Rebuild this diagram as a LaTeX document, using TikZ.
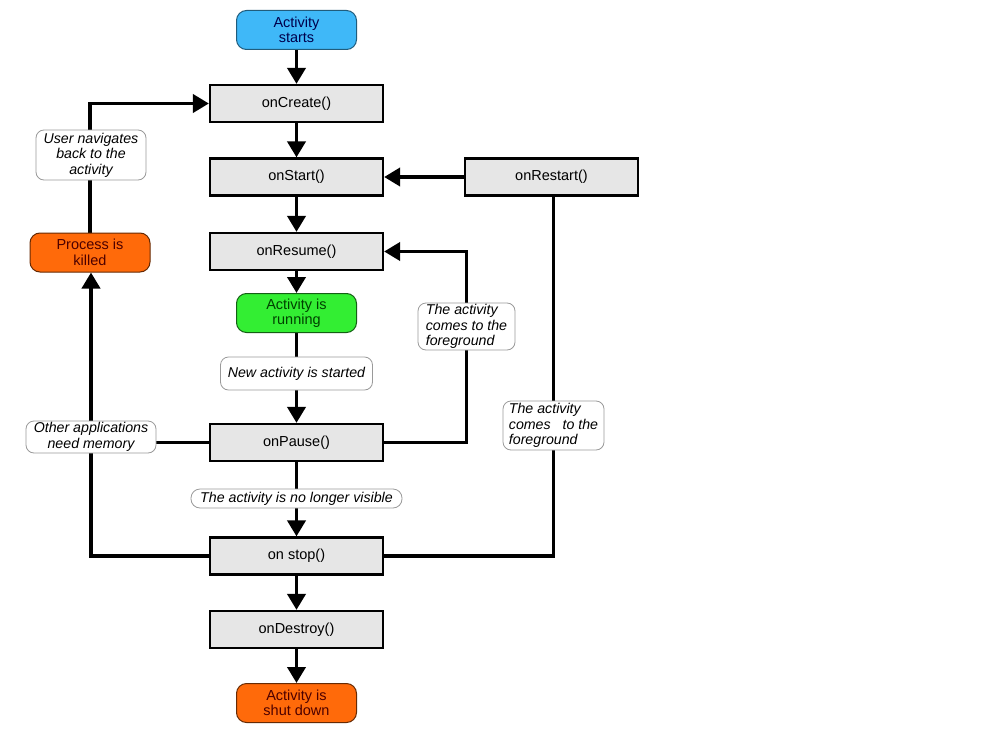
\documentclass[tikz,border=0pt]{standalone}
\usepackage{fontspec}
\setmainfont{Liberation Sans}
\usetikzlibrary{arrows.meta,backgrounds}
\definecolor{boxgray}{HTML}{E6E6E6}
\definecolor{startblue}{HTML}{3FB8F8}
\definecolor{rungreen}{HTML}{33EE33}
\definecolor{killorange}{HTML}{FF6A0A}
\definecolor{notegray}{HTML}{9A9A9A}
\begin{document}
\begin{tikzpicture}[x=1pt,y=-1pt,
  font=\fontsize{14.5}{15.5}\selectfont,
  method/.style={draw=black,line width=2.2pt,fill=boxgray,minimum width=173pt,minimum height=37pt,inner sep=0pt},
  state/.style={rounded corners=10pt,minimum width=120pt,minimum height=39pt,inner sep=0pt,align=center,line width=1pt},
  note/.style={draw=notegray,line width=0.8pt,fill=white,rounded corners=8pt,inner sep=1pt,font=\fontsize{14.2}{15.5}\selectfont\itshape},
  flow/.style={line width=3.8pt,-{Triangle[width=18pt,length=16pt]}},
  link/.style={line width=3.8pt}]
\useasboundingbox (0,0) rectangle (1000,733);

% lifecycle states
\node[state,fill=startblue,draw=startblue!50!black,text=blue!30!black] (begin) at (296.5,30) {Activity\\starts};
\node[state,fill=rungreen,draw=rungreen!40!black,text=green!25!black] (running) at (296.5,313) {Activity is\\running};
\node[state,fill=killorange,draw=killorange!40!black,text=red!30!black] (shut) at (296.5,703) {Activity is\\shut down};
\node[state,fill=killorange,draw=killorange!40!black,text=red!30!black] (killed) at (90,252.5) {Process is\\killed};

% callback methods
\node[method] (create) at (296.5,103.5) {onCreate()};
\node[method] (start) at (296.5,177) {onStart()};
\node[method] (resume) at (296.5,251.5) {onResume()};
\node[method] (pause) at (296.5,442.5) {onPause()};
\node[method] (stop) at (296.5,556) {on stop()};
\node[method] (destroy) at (296.5,629.5) {onDestroy()};
\node[method] (restart) at (551.5,177) {onRestart()};

% notes
\node[note,minimum width=110pt,minimum height=50pt,align=center] (nav) at (91,155) {User navigates\\back to the\\activity};
\node[note,minimum width=130pt,minimum height=32pt,align=center] (mem) at (91,437) {Other applications\\need memory};
\node[note,minimum width=152pt,minimum height=33pt] (newact) at (296.5,373.5) {New activity is started};
\node[note,minimum width=211pt,minimum height=19pt,inner sep=0pt,rounded corners=9pt] (novis) at (296.5,498.5) {The activity is no longer visible};
\node[note,minimum width=97pt,minimum height=47pt,align=left] (fgone) at (466.5,326.5) {The activity\\comes to the\\foreground};
\node[note,minimum width=101pt,minimum height=49pt,align=left] (fgtwo) at (553.5,425.5) {The activity\\comes\ \ \ to the\\foreground};

\begin{pgfonlayer}{background}
\fill[white] (0,0) rectangle (1000,733);
\draw[flow] (begin.south) -- (create.north);
\draw[flow] (create.south) -- (start.north);
\draw[flow] (start.south) -- (resume.north);
\draw[flow] (resume.south) -- (running.north);
\draw[flow] (running.south) -- (pause.north);
\draw[flow] (pause.south) -- (stop.north);
\draw[flow] (stop.south) -- (destroy.north);
\draw[flow] (destroy.south) -- (shut.north);
\draw[flow] (restart.west) -- (start.east);
\draw[flow] (pause.east) -| (fgone.center) |- (resume.east);
\draw[link] (stop.east) -| (fgtwo.center) -- (restart.south -| fgtwo.center);
\draw[flow] (stop.west) -| (mem.center) -- (killed.south -| mem.center);
\draw[link] (pause.west) -- (pause.west -| mem.east);
\draw[flow] (killed.north) |- (create.west);
\end{pgfonlayer}
\end{tikzpicture}
\end{document}
